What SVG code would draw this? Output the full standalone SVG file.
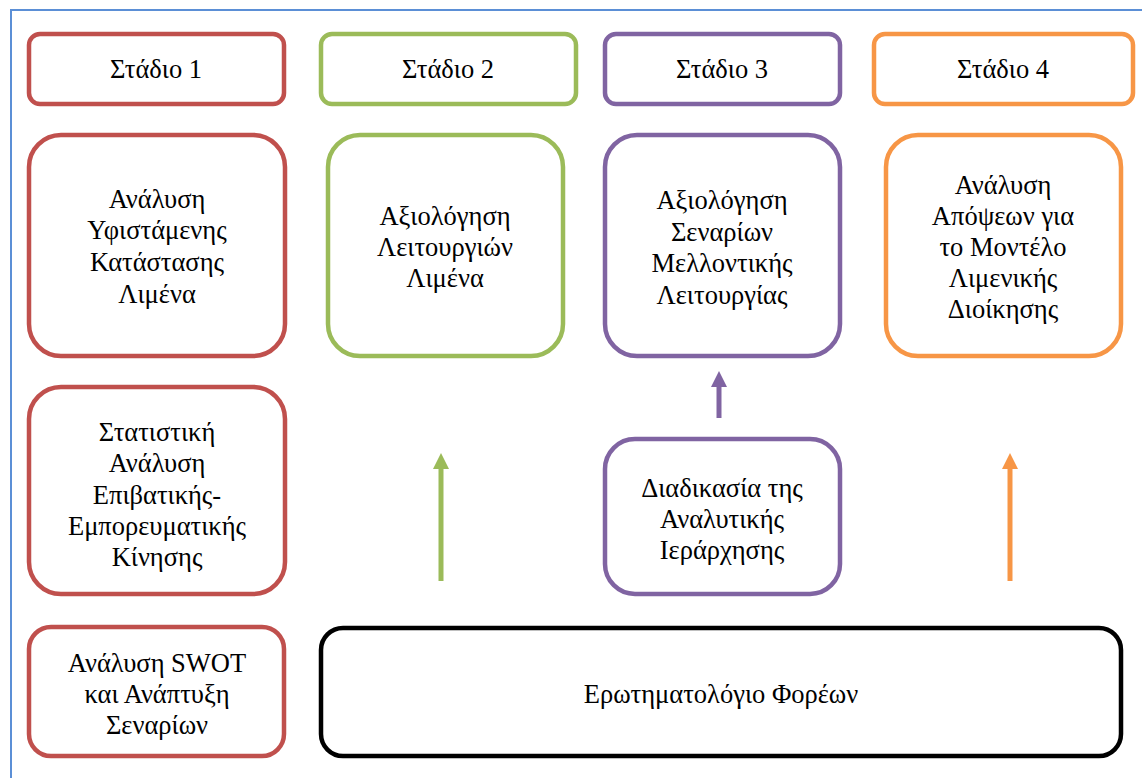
<svg xmlns="http://www.w3.org/2000/svg" width="1142" height="778" viewBox="0 0 1142 778">
<defs>
<style>
.t{font-family:"Liberation Serif","Times New Roman",serif;font-size:26.5px;fill:#000;text-anchor:middle}
.b{fill:#fff;stroke-width:4.5}
.red{stroke:#c0504d}.grn{stroke:#9bbb59}.pur{stroke:#8064a2}.org{stroke:#f79646}.blk{stroke:#000}
.ar{stroke-width:5;fill:none}
</style>
<marker id="mg" viewBox="0 0 10 10" refX="5" refY="5" markerWidth="3.2" markerHeight="3.2" orient="auto"><path d="M0,0 L10,5 L0,10 z" fill="#9bbb59"/></marker>
<marker id="mp" viewBox="0 0 10 10" refX="5" refY="5" markerWidth="3.2" markerHeight="3.2" orient="auto"><path d="M0,0 L10,5 L0,10 z" fill="#8064a2"/></marker>
<marker id="mo" viewBox="0 0 10 10" refX="5" refY="5" markerWidth="3.2" markerHeight="3.2" orient="auto"><path d="M0,0 L10,5 L0,10 z" fill="#f79646"/></marker>
</defs>
<rect width="1142" height="778" fill="#fff"/>
<path d="M11,790 L11,10 L1150,10" fill="none" stroke="#5b8fd6" stroke-width="2"/>

<g id="s1"><rect class="b red" x="29" y="34" width="255" height="70" rx="11"/><text class="t" x="156" y="78">Στάδιο 1</text></g>
<g id="s2"><rect class="b grn" x="321" y="34" width="255" height="70" rx="11"/><text class="t" x="448" y="78">Στάδιο 2</text></g>
<g id="s3"><rect class="b pur" x="605" y="34" width="235" height="70" rx="11"/><text class="t" x="722" y="78">Στάδιο 3</text></g>
<g id="s4"><rect class="b org" x="874" y="34" width="259" height="70" rx="11"/><text class="t" x="1003" y="78">Στάδιο 4</text></g>

<g id="n1"><rect class="b red" x="29" y="135" width="256" height="221" rx="32"/>
<text class="t" x="157" y="208">Ανάλυση</text><text class="t" x="157" y="239">Υφιστάμενης</text><text class="t" x="157" y="271">Κατάστασης</text><text class="t" x="157" y="303">Λιμένα</text></g>
<g id="n2"><rect class="b grn" x="328" y="135" width="235" height="221" rx="32"/>
<text class="t" x="445" y="225">Αξιολόγηση</text><text class="t" x="445" y="256">Λειτουργιών</text><text class="t" x="445" y="287">Λιμένα</text></g>
<g id="n3"><rect class="b pur" x="605" y="135" width="235" height="221" rx="32"/>
<text class="t" x="722" y="209">Αξιολόγηση</text><text class="t" x="722" y="241">Σεναρίων</text><text class="t" x="722" y="272">Μελλοντικής</text><text class="t" x="722" y="304">Λειτουργίας</text></g>
<g id="n4"><rect class="b org" x="886" y="135" width="235" height="221" rx="32"/>
<text class="t" x="1003" y="194">Ανάλυση</text><text class="t" x="1003" y="225">Απόψεων για</text><text class="t" x="1003" y="256">το Μοντέλο</text><text class="t" x="1003" y="287">Λιμενικής</text><text class="t" x="1003" y="318">Διοίκησης</text></g>

<g id="n5"><rect class="b red" x="29" y="387" width="256" height="207" rx="32"/>
<text class="t" x="157" y="441">Στατιστική</text><text class="t" x="157" y="472">Ανάλυση</text><text class="t" x="157" y="504">Επιβατικής-</text><text class="t" x="157" y="535">Εμπορευματικής</text><text class="t" x="157" y="566">Κίνησης</text></g>
<g id="n6"><rect class="b pur" x="605" y="439" width="235" height="155" rx="30"/>
<text class="t" x="722" y="497">Διαδικασία της</text><text class="t" x="722" y="528">Αναλυτικής</text><text class="t" x="722" y="559">Ιεράρχησης</text></g>

<g id="n7"><rect class="b red" x="29" y="627" width="255" height="129" rx="22"/>
<text class="t" x="157" y="672">Ανάλυση SWOT</text><text class="t" x="157" y="703">και Ανάπτυξη</text><text class="t" x="157" y="734">Σεναρίων</text></g>
<g id="n8"><rect class="b blk" x="321" y="628" width="800" height="128" rx="22"/>
<text class="t" x="721" y="703">Ερωτηματολόγιο Φορέων</text></g>

<g id="connectors">
<line class="ar" x1="441" y1="581" x2="441" y2="461" stroke="#9bbb59" marker-end="url(#mg)"/>
<line class="ar" x1="719" y1="418" x2="719" y2="379" stroke="#8064a2" marker-end="url(#mp)"/>
<line class="ar" x1="1010" y1="581" x2="1010" y2="461" stroke="#f79646" marker-end="url(#mo)"/>
</g>
</svg>
